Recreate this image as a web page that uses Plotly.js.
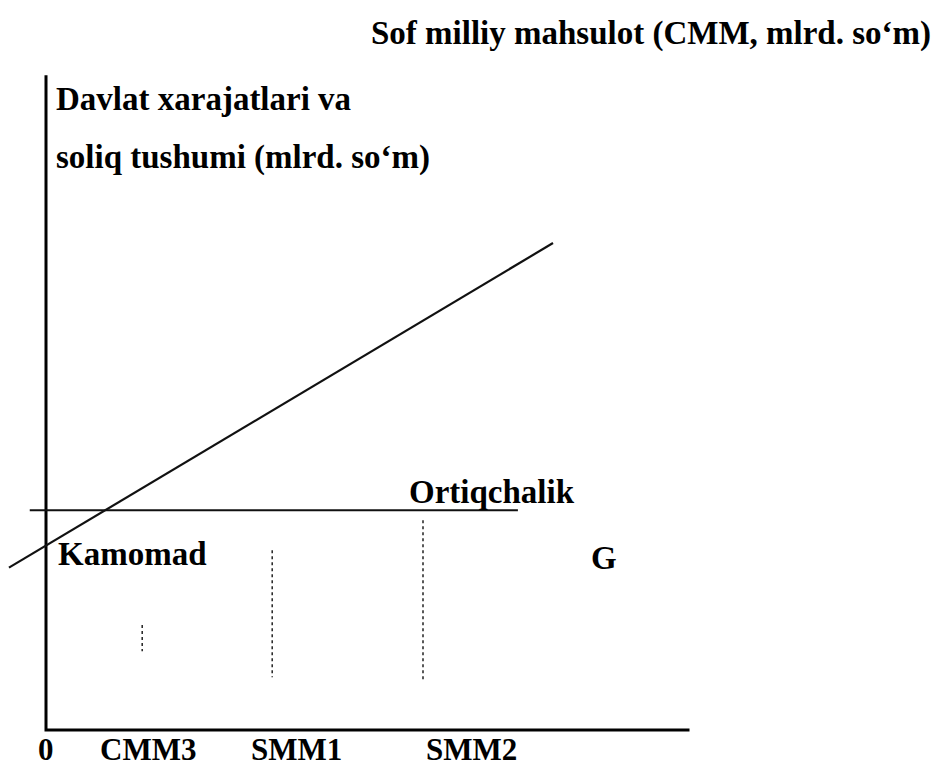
<!DOCTYPE html>
<html>
<head>
<meta charset="utf-8">
<script src="https://cdn.plot.ly/plotly-3.0.1.min.js"></script>
<style>
  html, body { margin: 0; padding: 0; background: #fff; }
  #chart { width: 940px; height: 769px; }
</style>
</head>
<body>
<div id="chart"></div>
<script>
// Values (arbitrary units, both axes 0..100)
const taxX = [-5.7, 78];          // soliq tushumi line
const taxY = [24.3, 72.9];
const govX = [-2.5, 72.6];        // davlat xarajatlari (G), flat
const govY = [32.9, 32.9];
const dropX      = [14.8, 34.8, 58];
const dropTop    = [15.7, 26.9, 31.4];
const dropBottom = [11.8, 7.9, 7.5];
const tickLabels = ['0', 'CMM3', 'SMM1', 'SMM2'];
const tickPos    = [0, 15.7, 38.6, 65.4];
const xAxisEnd = 99;
const yAxisTop = 98;

const W = 940, H = 769;
// pixel mapping of the drawing: origin at (46, 730)
const pxX = 6.5, pxY = 6.68, x0px = 46, y0px = 730;
const xRange = [-x0px/pxX, (W - x0px)/pxX];
const yRange = [-(H - y0px)/pxY, y0px/pxY];

const font = { family: '"Liberation Serif", "Times New Roman", serif', size: 33, color: '#000', weight: 'bold' };

let traces = [];

// axes
traces.push({ x: [0, 0, xAxisEnd], y: [yAxisTop, 0, 0], mode: 'lines',
              line: { color: '#000', width: 3 }, hoverinfo: 'skip' });
// G line
traces.push({ x: govX, y: govY, mode: 'lines', line: { color: '#111', width: 2.2 }, hoverinfo: 'skip' });
// tax revenue line
traces.push({ x: taxX, y: taxY, mode: 'lines', line: { color: '#111', width: 2.2 }, hoverinfo: 'skip' });
// dotted drops
dropX.forEach((xv, i) => {
    traces.push({ x: [xv, xv], y: [dropTop[i], dropBottom[i]], mode: 'lines',
                  line: { color: '#222', width: 1.5, dash: 'dot' }, hoverinfo: 'skip' });
});

let annotations = [
    { text: 'Sof milliy mahsulot (CMM, mlrd. so\u2018m)', xref: 'paper', yref: 'paper',
      x: 933/W, y: 1 - 33/H, xanchor: 'right', yanchor: 'middle' },
    { text: 'Davlat xarajatlari va', x: 1.2, y: 94.4, xanchor: 'left', yanchor: 'middle' },
    { text: 'soliq tushumi (mlrd. so\u2018m)', x: 1.2, y: 85.7, xanchor: 'left', yanchor: 'middle' },
    { text: 'Kamomad', x: 1.5, y: 26.4, xanchor: 'left', yanchor: 'middle' },
    { text: 'Ortiqchalik', x: 55.5, y: 35.6, xanchor: 'left', yanchor: 'middle' },
    { text: 'G', x: 85.8, y: 25.8, xanchor: 'center', yanchor: 'middle' }
];
annotations.forEach(a => { a.font = font; });
tickLabels.forEach((t, i) => {
    annotations.push({ text: t, x: tickPos[i], yref: 'paper', y: 0, xanchor: 'center', yanchor: 'bottom',
                       font: Object.assign({}, font, { size: 31 }) });
});
annotations.forEach(a => { a.showarrow = false; });

let layout = {
    width: W,
    height: H,
    margin: { l: 0, r: 0, t: 0, b: 0, pad: 0 },
    paper_bgcolor: '#fff',
    plot_bgcolor: '#fff',
    showlegend: false,
    xaxis: { range: xRange, visible: false, fixedrange: true },
    yaxis: { range: yRange, visible: false, fixedrange: true },
    annotations: annotations
};

Plotly.newPlot(document.querySelector('#chart'), traces, layout, { staticPlot: true });
</script>
</body>
</html>
